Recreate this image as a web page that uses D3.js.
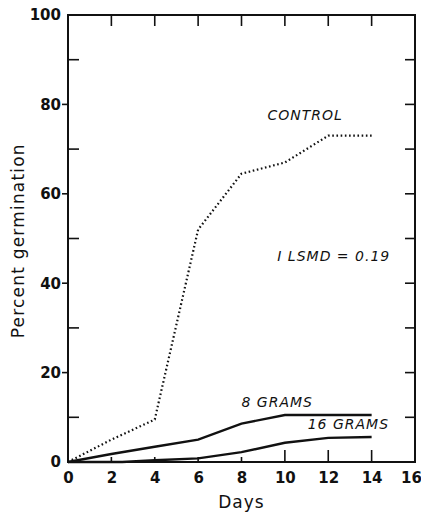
<!DOCTYPE html>
<html>
<head>
<meta charset="utf-8">
<script src="https://cdn.jsdelivr.net/npm/d3@7"></script>
<style>
body { margin: 0; background: #fff; }
svg text { font-family: "DejaVu Sans", sans-serif; fill: #111; }
</style>
</head>
<body>
<svg id="chart" width="421" height="515"></svg>
<script>
// Germination data
var days = [0, 2, 4, 6, 8, 10, 12, 14];
var control = [0, 5, 9.5, 52, 64.5, 67, 73, 73];
var grams8 = [0, 1.8, 3.4, 5, 8.6, 10.5, 10.5, 10.5];
var days16 = [0, 2.5, 4, 6, 8, 10, 12, 14];
var grams16 = [0, 0, 0.4, 0.8, 2.2, 4.3, 5.4, 5.6];
var x_ticks = [0, 2, 4, 6, 8, 10, 12, 14, 16];
var y_ticks = [0, 20, 40, 60, 80, 100];
var y_minor = [10, 30, 50, 70, 90];

var svg = d3.select('#chart');
var margin = {left: 68, right: 6, top: 15, bottom: 53};
var width = 421 - margin.left - margin.right;
var height = 515 - margin.top - margin.bottom;

var x = d3.scaleLinear().domain([0, 16]).range([0, width]);
var y = d3.scaleLinear().domain([0, 100]).range([height, 0]);

var g = svg.append('g').attr('transform', 'translate(' + margin.left + ',' + margin.top + ')');

// Frame
g.append('rect')
    .attr('width', width).attr('height', height)
    .attr('fill', 'none').attr('stroke', '#111').attr('stroke-width', 2);

// Tick labels
var xAxis = g.append('g').attr('transform', 'translate(0,' + height + ')')
    .call(d3.axisBottom(x).tickValues(x_ticks).tickSize(0).tickPadding(10));
var yAxis = g.append('g')
    .call(d3.axisLeft(y).tickValues(y_ticks).tickSize(0).tickPadding(7));
[xAxis, yAxis].forEach(function (a) {
    a.select('.domain').remove();
    a.selectAll('text')
        .style('font-family', '"DejaVu Sans", sans-serif')
        .style('font-size', '15px').style('font-weight', 'bold').attr('fill', '#111');
});
// keep the last day label inside the page
xAxis.selectAll('text').filter(function (d) { return d === 16; }).attr('dx', -4);

// Inner tick marks
var tickStyle = function (sel) { sel.attr('stroke', '#111').attr('stroke-width', 1.6); };
g.selectAll('.tick-top').data([2, 4, 6, 8, 10, 12, 14]).enter().append('line')
    .attr('x1', function (d) { return x(d); }).attr('x2', function (d) { return x(d); })
    .attr('y1', 0).attr('y2', 11).call(tickStyle);
g.selectAll('.tick-bottom').data([2, 4, 6, 8, 10, 12, 14]).enter().append('line')
    .attr('x1', function (d) { return x(d); }).attr('x2', function (d) { return x(d); })
    .attr('y1', height).attr('y2', function (d) { return height - (d >= 10 ? 12 : 5); })
    .call(tickStyle);
g.selectAll('.tick-right').data(y_minor.concat([20, 40, 60, 80])).enter().append('line')
    .attr('x1', width).attr('x2', width - 10)
    .attr('y1', function (d) { return y(d); }).attr('y2', function (d) { return y(d); })
    .call(tickStyle);
g.selectAll('.tick-left').data(y_minor).enter().append('line')
    .attr('x1', 0).attr('x2', 11)
    .attr('y1', function (d) { return y(d); }).attr('y2', function (d) { return y(d); })
    .call(tickStyle);
g.selectAll('.tick-left-major').data([20, 40, 60, 80]).enter().append('line')
    .attr('x1', 0).attr('x2', -6)
    .attr('y1', function (d) { return y(d); }).attr('y2', function (d) { return y(d); })
    .call(tickStyle);

// Series lines
var line = d3.line().x(function (d) { return x(d[0]); }).y(function (d) { return y(d[1]); });
g.append('path').datum(d3.zip(days, control))
    .attr('d', line).attr('fill', 'none').attr('stroke', '#111')
    .attr('stroke-width', 2.2).attr('stroke-dasharray', '1.6,2.6');
g.append('path').datum(d3.zip(days, grams8))
    .attr('d', line).attr('fill', 'none').attr('stroke', '#111').attr('stroke-width', 2.4);
g.append('path').datum(d3.zip(days16, grams16))
    .attr('d', line).attr('fill', 'none').attr('stroke', '#111').attr('stroke-width', 2.4);

// In-plot labels
var label = function (text, day, pct, size) {
    g.append('text').attr('x', x(day)).attr('y', y(pct))
        .style('font-size', size + 'px').style('font-style', 'italic')
        .style('letter-spacing', '1px').text(text);
};
label('CONTROL', 9.2, 76.5, 14);
label('8 GRAMS', 8, 12.3, 14);
label('16 GRAMS', 11.05, 7.4, 14);
label('\u0049 LSMD = 0.19', 9.65, 45, 14);

// Axis titles
svg.append('text').attr('x', margin.left + x(8)).attr('y', 508)
    .attr('text-anchor', 'middle').style('font-size', '17px').style('letter-spacing', '1px')
    .text('Days');
svg.append('text')
    .attr('transform', 'translate(24,' + (margin.top + y(49.5)) + ') rotate(-90)')
    .attr('text-anchor', 'middle').style('font-size', '17px').style('letter-spacing', '1.2px')
    .text('Percent germination');
</script>
</body>
</html>
